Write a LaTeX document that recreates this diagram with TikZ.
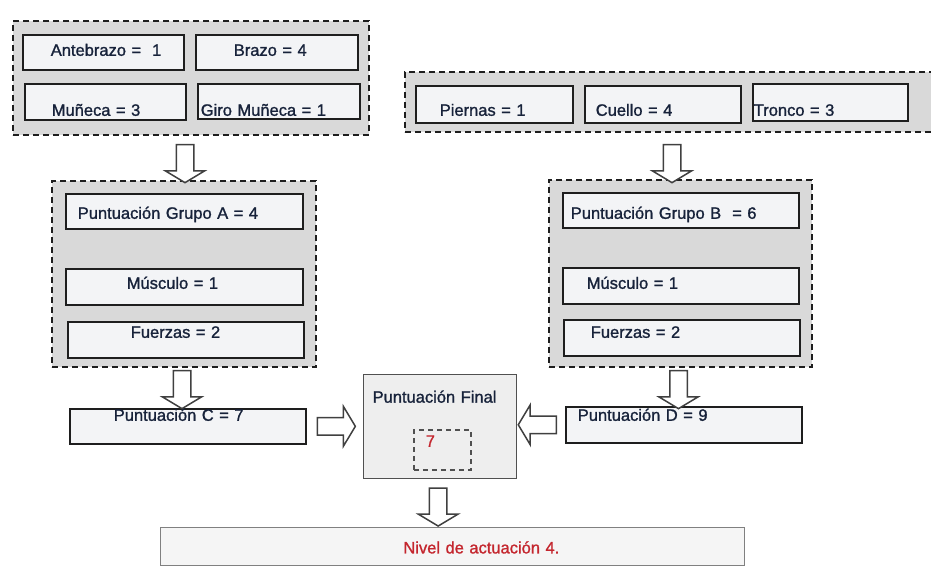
\documentclass[tikz,border=0pt]{standalone}
\usepackage{fontspec}
\setmainfont{Liberation Sans}[UprightFeatures={FakeBold=1.2}]
\usetikzlibrary{shapes.arrows,fit,calc}
\definecolor{tinta}{HTML}{17223A}
\definecolor{rojo}{HTML}{C4262E}
\definecolor{borde}{HTML}{1E1E1E}
\definecolor{claro}{HTML}{F3F4F6}
\definecolor{gris}{HTML}{D9D9D9}
\definecolor{fondofinal}{HTML}{EEEEEE}
\definecolor{linea}{HTML}{505050}
\newcommand\rotulo{\fontsize{16.5}{19}\selectfont}

\begin{document}
\begin{tikzpicture}[x=1pt, y=-1pt,
  grupo/.style={draw=borde, line width=1.8pt, dash pattern=on 6pt off 4pt,
                fill=gris, inner sep=0pt},
  % caja={ancho}{sangria}{alto sobre la base}{bajo la base}
  caja/.style n args={4}{draw=borde, line width=1.6pt, fill=claro, anchor=north west,
                inner sep=0pt, align=left, font=\rotulo, text=tinta,
                text width=#1pt, text height=#3pt, text depth=#4pt,
                execute at begin node={\hspace*{#2pt}}},
  flecha/.style={single arrow, draw=borde!85, line width=1.5pt, fill=white,
                inner xsep=0pt, inner ysep=8pt, minimum height=38pt,
                single arrow head extend=11pt, single arrow tip angle=118}]

  \useasboundingbox (0,0) rectangle (931,567);
  \clip (0,0) rectangle (931,567);
  \fill[white] (0,0) rectangle (931,567);

  % grupos punteados
  \node[grupo, fit={(13,21) (369,135)}] (g1) {};
  \node[grupo, fit={(405,72) (945,132)}] (g2) {};
  \node[grupo, fit={(52,181) (316,367)}] (grpA) {};
  \node[grupo, fit={(549,180) (812,367)}] (grpB) {};

  % grupo A: brazo
  \node[caja={161}{28}{21}{14}] (ante) at (22,34) {Antebrazo =\ \ 1};
  \node[caja={162}{38}{21}{14}] (brazo) at (195,34) {Brazo = 4};
  \node[caja={161}{27}{32}{4}] (muneca) at (24,83) {Muñeca = 3};
  \node[caja={162}{3}{32}{3}] (giro) at (197,83) {Giro Muñeca = 1};

  % grupo B: piernas, cuello, tronco
  \node[caja={157}{24}{30}{7}] (piernas) at (415,85) {Piernas = 1};
  \node[caja={156}{11}{30}{7}] (cuello) at (584,85) {Cuello = 4};
  \node[caja={155}{1}{32}{5}] (tronco) at (752,83) {Tronco = 3};

  \node[caja={237}{12}{25}{10}] (puntA) at (65,193) {Puntuación Grupo A = 4};
  \node[caja={237}{61}{20}{16}] (muscA) at (65,268) {Músculo = 1};
  \node[caja={236}{63}{16}{20}] (fuerA) at (67,321) {Fuerzas = 2};

  \node[caja={236}{8}{26}{9}] (puntB) at (562,192) {Puntuación Grupo B\ \ = 6};
  \node[caja={236}{24}{21}{15}] (muscB) at (562,267) {Músculo = 1};
  \node[caja={236}{27}{18}{18}] (fuerB) at (563,319) {Fuerzas = 2};

  \node[caja={236}{44}{12}{23}] (puntC) at (69,408) {Puntuación C = 7};
  \node[caja={236}{12}{14}{22}] (puntD) at (565,406) {Puntuación D = 9};

  % resultado
  \node[caja={153}{9}{28}{76}, draw=linea, line width=1.3pt, fill=fondofinal]
    (final) at (363,374) {Puntuación Final};
  \node[caja={57}{12}{17}{23}, draw=linea, line width=1.5pt,
        dash pattern=on 5pt off 4pt, fill=none, text=rojo] (siete) at (413,429) {7};
  \node[caja={584}{243}{26}{12}, draw=gray, line width=0.8pt, fill=black!4,
        text=rojo] (nivel) at (160,527) {Nivel de actuación 4.};

  % flechas huecas
  \node[flecha, rotate=-90, anchor=tail] (f1) at ($(g1.south)+(-6,8)$) {};
  \node[flecha, rotate=-90, anchor=tail] (f2) at ($(g2.south)+(-3,11)$) {};
  \node[flecha, rotate=-90, anchor=tail] (f3) at ($(grpA.south)+(-2,2)$) {};
  \node[flecha, rotate=-90, anchor=tail] (f4) at ($(grpB.south)+(-2,2)$) {};
  \node[flecha, anchor=tail] (f5) at ($(puntC.east)+(10,0)$) {};
  \node[flecha, rotate=180, anchor=tail] (f6) at ($(puntD.west)+(-8,0)$) {};
  \node[flecha, rotate=-90, anchor=tail] (f7) at ($(final.south)+(-2,8)$) {};
\end{tikzpicture}
\end{document}
